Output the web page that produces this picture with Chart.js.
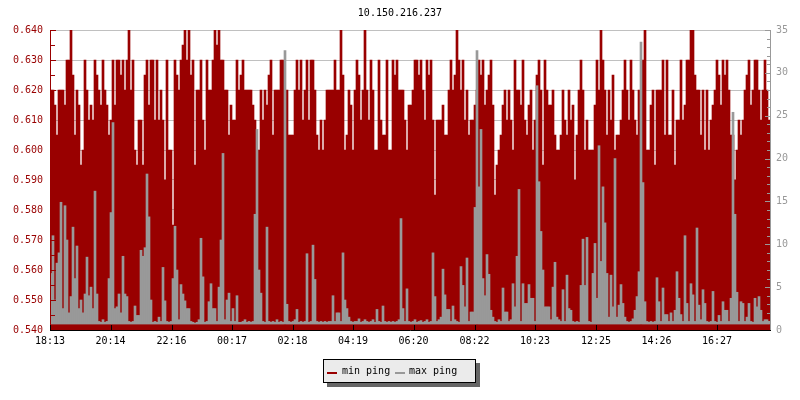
<!DOCTYPE html>
<html><head><meta charset="utf-8">
<script src="https://cdn.jsdelivr.net/npm/chart.js@4/dist/chart.umd.min.js"></script>
<style>
html,body{margin:0;padding:0;background:#fff;}
#wrap{position:relative;width:800px;height:400px;overflow:hidden;}
#title{position:absolute;left:0;top:8px;width:800px;text-align:center;font:10px/10px "DejaVu Sans Mono";color:#000;}
#legend{position:absolute;left:323px;top:359px;width:151px;height:22px;background:#ebebeb;border:1px solid #000;box-shadow:4px 4px 0 #666;font:10px/10px "DejaVu Sans Mono";color:#000;}
#legend .sw{position:absolute;top:12px;width:10px;height:2px;}
#legend .tx{position:absolute;top:6px;white-space:pre;}
</style></head>
<body><div id="wrap">
<canvas id="c" width="800" height="400"></canvas>
<div id="title">10.150.216.237</div>
<div id="legend">
<span class="sw" style="left:3px;background:#990000"></span><span class="tx" style="left:18px">min ping</span>
<span class="sw" style="left:71px;background:#999999"></span><span class="tx" style="left:85px">max ping</span>
</div>
</div>
<script>
const tickLabels = ['18:13','20:14','22:16','00:17','02:18','04:19','06:20','08:22','10:23','12:25','14:26','16:27'];
const tickMinutes = [0,121,243,364,485,606,727,849,970,1092,1213,1334];
const spanMinutes = 1440;

const minPing = [
0.620,0.620,0.615,0.605,0.620,0.620,0.620,0.615,0.630,0.630,
0.640,0.625,0.605,0.620,0.615,0.595,0.600,0.630,0.620,0.610,
0.615,0.610,0.630,0.625,0.620,0.615,0.630,0.620,0.615,0.605,
0.610,0.630,0.615,0.630,0.630,0.625,0.630,0.620,0.630,0.640,
0.620,0.630,0.600,0.595,0.610,0.610,0.595,0.625,0.630,0.615,
0.630,0.630,0.610,0.630,0.610,0.620,0.610,0.590,0.630,0.600,
0.600,0.575,0.630,0.625,0.620,0.630,0.635,0.640,0.630,0.640,
0.625,0.630,0.595,0.620,0.620,0.630,0.610,0.600,0.630,0.620,
0.620,0.630,0.640,0.635,0.640,0.630,0.630,0.620,0.620,0.605,
0.615,0.610,0.610,0.630,0.620,0.625,0.630,0.620,0.620,0.620,
0.620,0.615,0.610,0.600,0.600,0.620,0.610,0.620,0.615,0.625,
0.630,0.605,0.620,0.620,0.620,0.630,0.630,0.610,0.620,0.605,
0.605,0.605,0.620,0.630,0.620,0.630,0.610,0.620,0.630,0.610,
0.630,0.630,0.620,0.605,0.600,0.610,0.600,0.610,0.620,0.620,
0.620,0.620,0.630,0.620,0.620,0.640,0.625,0.600,0.605,0.620,
0.615,0.600,0.620,0.630,0.625,0.610,0.620,0.640,0.620,0.610,
0.630,0.620,0.600,0.600,0.630,0.610,0.605,0.605,0.630,0.600,
0.600,0.630,0.625,0.630,0.620,0.620,0.620,0.610,0.600,0.615,
0.615,0.620,0.630,0.630,0.625,0.630,0.620,0.610,0.630,0.625,
0.630,0.610,0.585,0.610,0.610,0.610,0.615,0.605,0.605,0.620,
0.630,0.620,0.625,0.640,0.630,0.620,0.630,0.610,0.620,0.605,
0.610,0.610,0.615,0.620,0.630,0.625,0.630,0.615,0.620,0.625,
0.630,0.615,0.585,0.595,0.600,0.605,0.615,0.620,0.610,0.620,
0.610,0.600,0.630,0.620,0.620,0.615,0.630,0.610,0.605,0.615,
0.620,0.600,0.610,0.625,0.630,0.620,0.595,0.630,0.620,0.615,
0.615,0.620,0.605,0.600,0.600,0.605,0.620,0.610,0.605,0.620,
0.610,0.615,0.590,0.605,0.620,0.630,0.620,0.600,0.610,0.600,
0.600,0.600,0.615,0.630,0.620,0.640,0.630,0.620,0.605,0.620,
0.610,0.625,0.600,0.605,0.605,0.610,0.620,0.630,0.620,0.610,
0.630,0.620,0.610,0.605,0.620,0.600,0.630,0.640,0.600,0.600,
0.615,0.620,0.595,0.620,0.620,0.620,0.630,0.605,0.630,0.605,
0.605,0.620,0.595,0.610,0.610,0.630,0.610,0.615,0.630,0.630,
0.640,0.640,0.625,0.620,0.620,0.605,0.620,0.600,0.620,0.600,
0.610,0.615,0.620,0.630,0.625,0.615,0.630,0.625,0.630,0.620,
0.605,0.605,0.590,0.600,0.610,0.605,0.610,0.620,0.625,0.630,
0.615,0.620,0.630,0.630,0.620,0.610,0.620,0.630,0.620,0.610
];

const maxPing = [
6.6,11,3.5,7.8,9,14.9,2.5,14.5,10.5,2,
3.9,12,6,9.8,2.5,3.5,2,4.2,8.5,4,
5,2.5,16.2,4.2,1.0,0.9,1.2,0.9,1.0,6,
13.7,24.2,2.5,2.7,4.2,2,8.6,4.2,3.9,1,
0.9,1.0,2.8,1.7,1.7,9.3,8.6,9.6,18.2,13.2,
3.5,0.9,1.0,0.9,1.5,1.0,7.3,3.4,1.0,0.9,
1.0,6,12.1,7,1.2,5.3,4.2,3.4,2.5,2.5,
1.0,0.9,0.8,0.9,1.2,10.7,6.2,0.9,1.0,3.3,
5.4,2.5,2.5,1.0,5,10.5,20.6,1.2,3.5,4.3,
1.0,2.5,1.0,4,0.9,0.9,1.0,1.2,0.9,1.0,
0.9,1.0,13.5,23.4,7,4.3,1.0,0.9,12,1.0,
0.9,1.0,0.9,1.2,0.9,1.0,0.9,32.6,3,1.0,
0.9,1.0,1.2,2.4,0.9,1.0,0.9,1.0,8.9,0.9,
1.0,9.9,5.9,1.0,0.9,1.0,0.9,1.0,0.9,1.0,
1.0,4,1.0,2,2,1.0,9,3.5,2.5,1.5,
1.0,0.9,1.0,1.0,1.3,0.9,1.0,1.2,1.0,0.9,
1.0,1.2,0.9,2.4,1.0,0.9,2.8,1.0,0.9,1.0,
0.9,1.0,0.9,1.0,1.2,13,2.5,1.0,4.8,1.0,
0.9,1.0,1.2,0.9,1.0,1.1,0.9,1.0,1.2,0.9,
1.0,9,3.9,1.0,1.2,1.5,7.1,4.1,2.4,2.4,
1.0,2.8,1.2,1.0,0.9,7.4,5.2,2.7,8.4,1.0,
2.1,2.1,14.3,32.6,16.7,23.4,6,4,8.8,6.5,
2.3,1.5,1.0,0.9,1.2,1.0,4.9,2.1,2.1,1.0,
1.2,5.4,2.7,8.6,16.4,1.0,5.4,3.1,3.1,5.3,
3.7,3.7,1.0,28.5,17.3,11.5,7,2.7,2.7,2.7,
1.2,5,7.9,1.5,1.2,1.0,4.7,1.0,6.4,2.5,
2.3,1.0,0.9,1.0,0.9,5.2,10.6,5.2,10.8,1.0,
0.9,6.6,10.1,3.7,21.5,8,16.7,12.5,6.6,1.5,
6.4,2.7,20,1.5,2.9,5.3,3.1,1.5,1.0,0.9,
1.0,1.3,2.3,3.9,6.8,33.6,17.2,3.3,1.0,0.9,
1.0,0.9,1.0,6.1,3.3,1.0,4.9,1.8,1.8,1.0,
2,1.0,2.3,6.8,3.7,1.8,1.0,11,3.1,1.0,
5.4,4.1,1.0,11.9,2.9,1.2,4.7,3.1,1.0,0.9,
1.0,4.5,1.0,0.9,1.7,1.0,3.3,2.3,2.3,1.0,
3.7,25.4,13.5,4.4,1.0,3.3,3.1,1.0,1.5,3.1,
1.0,0.9,3.7,2.7,3.9,2.3,1.0,1.2,1.2,1.0
];

const FONT = {family:'"DejaVu Sans Mono", monospace', size:10};
const RED = '#990000', GRAY = '#999999';
const step = spanMinutes / minPing.length;
const toPts = arr => arr.map((v,i) => ({x:(i+0.5)*step, y:v}));

const axesPlugin = {
  id:'rrdAxes',
  afterDatasetsDraw(chart){
    const {ctx, chartArea:ca, scales} = chart;
    ctx.save();
    ctx.lineWidth = 1;
    // left axis
    ctx.strokeStyle = RED;
    ctx.beginPath();
    ctx.moveTo(ca.left+0.5, ca.top); ctx.lineTo(ca.left+0.5, ca.bottom);
    const ys = scales.y;
    for (let k=0;k<=20;k++){
      const py = Math.round(ys.getPixelForValue(ys.min + k*(ys.max-ys.min)/20))+0.5;
      ctx.moveTo(ca.left, py); ctx.lineTo(ca.left + (k%2===0?6:5), py);
    }
    ctx.stroke();
    // right axis
    ctx.strokeStyle = GRAY;
    ctx.beginPath();
    ctx.moveTo(ca.right+0.5, ca.top); ctx.lineTo(ca.right+0.5, ca.bottom);
    const y2 = scales.y2;
    for (let v=y2.min; v<=y2.max; v++){
      const py = Math.round(y2.getPixelForValue(v))+0.5;
      ctx.moveTo(ca.right+1, py); ctx.lineTo(ca.right + 1 - (v%5===0?6:4), py);
    }
    ctx.stroke();
    // bottom axis
    ctx.strokeStyle = '#000';
    ctx.beginPath();
    ctx.moveTo(ca.left, ca.bottom+0.5); ctx.lineTo(ca.right+1, ca.bottom+0.5);
    tickMinutes.forEach(m => {
      const px = Math.round(scales.x.getPixelForValue(m))+0.5;
      ctx.moveTo(px, ca.bottom); ctx.lineTo(px, ca.bottom-5);
    });
    ctx.stroke();
    ctx.restore();
  }
};

new Chart(document.getElementById('c'), {
  type:'bar',
  data:{datasets:[
    {label:'max ping', data:toPts(maxPing), yAxisID:'y2', backgroundColor:GRAY, base:0.7,
     grouped:false, order:0, barPercentage:1, categoryPercentage:1, borderWidth:0},
    {label:'min ping', data:toPts(minPing), yAxisID:'y', backgroundColor:RED,
     grouped:false, order:1, barPercentage:1, categoryPercentage:1, borderWidth:0}
  ]},
  options:{
    responsive:false, animation:false, events:[],
    layout:{padding:{left:0,right:0,top:30,bottom:50}},
    plugins:{legend:{display:false}, tooltip:{enabled:false}, title:{display:false}},
    scales:{
      x:{type:'linear', min:0, max:spanMinutes, offset:false,
         grid:{display:false, drawTicks:false}, border:{display:false},
         afterBuildTicks:s=>{ s.ticks = tickMinutes.map(v=>({value:v})); },
         ticks:{autoSkip:false, maxRotation:0, padding:5, color:'#000', font:FONT,
                callback:(v,i)=>tickLabels[i]},
         afterFit:s=>{ s.height = 20; }},
      y:{position:'left', min:0.54, max:0.64,
         grid:{color:'#c0c0c0', drawTicks:false}, border:{display:false},
         ticks:{stepSize:0.01, padding:7, color:RED, font:FONT, callback:v=>Number(v).toFixed(3)},
         afterFit:s=>{ s.width = 50; }},
      y2:{position:'right', min:0, max:35,
         grid:{display:false, drawTicks:false}, border:{display:false},
         ticks:{stepSize:5, padding:6, color:GRAY, font:FONT},
         afterFit:s=>{ s.width = 30; }}
    }
  },
  plugins:[axesPlugin]
});
</script>
</body></html>
